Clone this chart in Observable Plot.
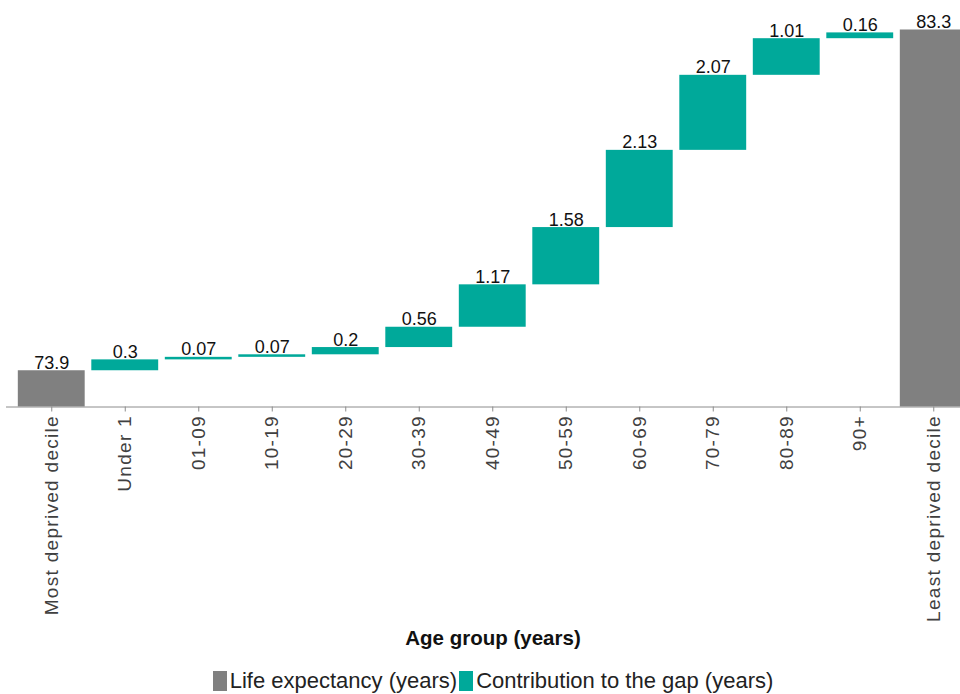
<!DOCTYPE html>
<html>
<head>
<meta charset="utf-8">
<script src="https://cdn.jsdelivr.net/npm/d3@7"></script>
<script src="https://cdn.jsdelivr.net/npm/@observablehq/plot@0.6"></script>
<style>
  html, body { margin: 0; padding: 0; background: #fff; overflow: hidden; }
  #wrap { position: relative; width: 960px; height: 694px; font-family: "Liberation Sans", Arial, sans-serif; }
  #chart { position: absolute; left: 0; top: 0; }
  #chart svg { overflow: hidden; }
  #chart [aria-label="x-axis tick label"] text { letter-spacing: 1.3px; }
  #xlabel { position: absolute; left: 0; width: 986px; top: 626px; text-align: center; font-weight: bold; font-size: 20.5px; color: #111; }
  #legend { position: absolute; left: 0; width: 986px; top: 668px; display: flex; justify-content: center; align-items: center; font-size: 22px; color: #222; }
  .sw { display: inline-block; width: 14px; height: 20px; margin-right: 3px; }
</style>
</head>
<body>
<div id="wrap">
  <div id="chart"></div>
  <div id="xlabel">Age group (years)</div>
  <div id="legend">
    <span class="sw" style="background:#808080"></span><span>Life expectancy (years)</span>
    <span class="sw" style="background:#00a99a;margin-left:2px"></span><span>Contribution to the gap (years)</span>
  </div>
</div>
<script>
// ---- data ----
const startLabel = "Most deprived decile";
const endLabel = "Least deprived decile";
const startValue = 73.9;
const endValue = 83.3;
const ageGroups = ["Under 1", "01-09", "10-19", "20-29", "30-39", "40-49", "50-59", "60-69", "70-79", "80-89", "90+"];
const contributions = [0.3, 0.07, 0.07, 0.2, 0.56, 1.17, 1.58, 2.13, 2.07, 1.01, 0.16];
const axisMin = 72.9;

const categories = [startLabel, ...ageGroups, endLabel];

// build table
const totals = [
  {cat: startLabel, y1: axisMin, y2: startValue, label: String(startValue)},
  {cat: endLabel, y1: axisMin, y2: endValue, label: String(endValue)}
];
const steps = [];
let run = startValue;
ageGroups.forEach((g, i) => {
  const v = contributions[i];
  steps.push({cat: g, y1: run, y2: run + v, label: String(v)});
  run += v;
});
const labels = [...totals, ...steps];

const chart = Plot.plot({
  width: 960,
  height: 650,
  marginLeft: 6,
  marginRight: 0,
  marginTop: 0,
  marginBottom: 243.5,
  style: {fontFamily: "'Liberation Sans', Arial, sans-serif", background: "transparent"},
  x: {domain: categories, range: [14.5, 970], paddingInner: 0.09, paddingOuter: 0.045, round: false, label: null},
  y: {domain: [axisMin, endValue], range: [406.5, 29.5], axis: null},
  marks: [
    Plot.barY(totals, {x: "cat", y1: "y1", y2: "y2", fill: "#808080"}),
    Plot.barY(steps, {x: "cat", y1: "y1", y2: "y2", fill: "#00a99a"}),
    Plot.ruleY([axisMin], {stroke: "#8c8c8c", strokeWidth: 1}),
    Plot.axisX({tickSize: 5, tickPadding: 3, tickRotate: -90, fontSize: 19, stroke: "#8c8c8c", fill: "#404040", label: null}),
    Plot.text(labels, {x: "cat", y: "y2", text: "label", dy: -2, lineAnchor: "bottom", fontSize: 18, fill: "#111"})
  ]
});
document.getElementById("chart").appendChild(chart);
</script>
</body>
</html>
